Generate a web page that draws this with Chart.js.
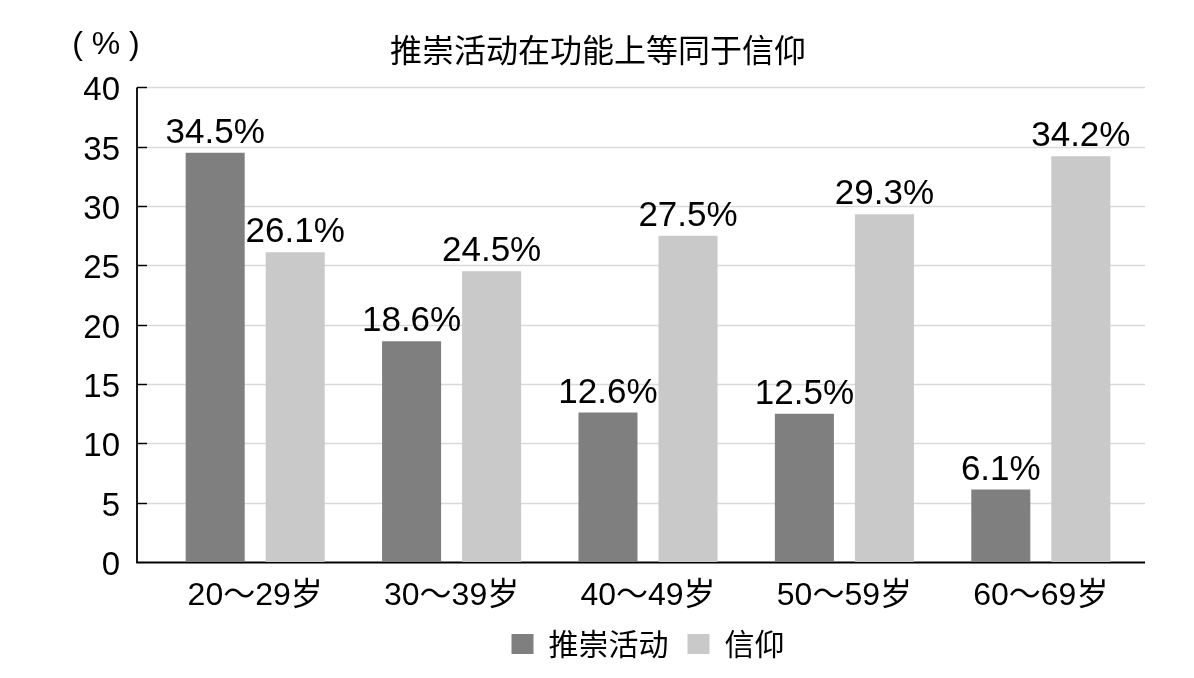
<!DOCTYPE html>
<html lang="zh-CN">
<head>
    <meta charset="UTF-8">
    <title>推崇活动在功能上等同于信仰</title>
    <style>
        body { margin: 0; background: #fff; }
        .wrap { width: 1194px; height: 678px; }
    </style>
</head>
<body>
    <div class="wrap">
        <canvas id="barChart" width="1194" height="678"></canvas>
    </div>
    <script src="https://cdn.jsdelivr.net/npm/chart.js"></script>
    <script>
        // data
        const ageGroups = ['20～29岁', '30～39岁', '40～49岁', '50～59岁', '60～69岁'];
        const activityValues = [34.5, 18.6, 12.6, 12.5, 6.1];
        const beliefValues = [26.1, 24.5, 27.5, 29.3, 34.2];
        const seriesNames = ['推崇活动', '信仰'];
        const yTicks = [0, 5, 10, 15, 20, 25, 30, 35, 40];

        const latin = '"Liberation Sans", Arial, "Noto Sans CJK SC", sans-serif';
        const cjk = '"Noto Sans CJK SC", "Liberation Sans", sans-serif';

        // axis lines, inner tick marks and gridlines (drawn a bit wider than the bar area)
        const axisPlugin = {
            id: 'axisDecor',
            beforeDatasetsDraw(chart) {
                const { ctx, chartArea, scales } = chart;
                const y = scales.y;
                const left = chartArea.left - 20;
                const right = chartArea.right + 6;
                ctx.save();
                yTicks.forEach(v => {
                    if (v === 0) return;
                    const py = Math.round(y.getPixelForValue(v)) + 0.5;
                    ctx.strokeStyle = '#d9d9d9';
                    ctx.lineWidth = 1.5;
                    ctx.beginPath();
                    ctx.moveTo(left + 10, py);
                    ctx.lineTo(right, py);
                    ctx.stroke();
                    ctx.strokeStyle = '#000';
                    ctx.beginPath();
                    ctx.moveTo(left, py);
                    ctx.lineTo(left + 10, py);
                    ctx.stroke();
                });
                const top = y.getPixelForValue(40);
                const base = Math.round(y.getPixelForValue(0)) + 0.5;
                ctx.strokeStyle = '#000';
                ctx.lineWidth = 1.8;
                ctx.beginPath();
                ctx.moveTo(left, top);
                ctx.lineTo(left, base);
                ctx.lineTo(right, base);
                ctx.stroke();

                // unit label
                ctx.fillStyle = '#000';
                ctx.font = '32px ' + latin;
                ctx.textAlign = 'center';
                ctx.textBaseline = 'middle';
                ctx.fillText('( % )', chartArea.left - 51, 45);
                ctx.restore();
            },
            afterDatasetsDraw(chart) {
                const { ctx } = chart;
                ctx.save();
                ctx.fillStyle = '#000';
                ctx.font = '35px ' + latin;
                ctx.textAlign = 'center';
                ctx.textBaseline = 'alphabetic';
                chart.data.datasets.forEach((ds, i) => {
                    chart.getDatasetMeta(i).data.forEach((bar, j) => {
                        ctx.fillText(ds.data[j].toFixed(1) + '%', bar.x, bar.y - 10);
                    });
                });
                ctx.restore();
            }
        };

        const ctx = document.getElementById('barChart').getContext('2d');
        const barChart = new Chart(ctx, {
            type: 'bar',
            data: {
                labels: ageGroups,
                datasets: [{
                    label: seriesNames[0],
                    data: activityValues,
                    backgroundColor: '#7f7f7f',
                    borderWidth: 0
                }, {
                    label: seriesNames[1],
                    data: beliefValues,
                    backgroundColor: '#c9c9c9',
                    borderWidth: 0
                }]
            },
            options: {
                responsive: false,
                animation: false,
                categoryPercentage: 0.815,
                barPercentage: 0.7375,
                layout: { padding: { left: 57, right: 55, top: 0, bottom: 9 } },
                plugins: {
                    title: {
                        display: true,
                        text: '推崇活动在功能上等同于信仰',
                        color: '#000',
                        font: { family: cjk, size: 32, weight: 'normal' },
                        padding: { top: 31, bottom: 18 }
                    },
                    legend: {
                        position: 'bottom',
                        fullSize: false,
                        labels: {
                            color: '#000',
                            font: { family: cjk, size: 30 },
                            boxWidth: 22,
                            boxHeight: 20,
                            padding: 19
                        }
                    },
                    tooltip: { enabled: false }
                },
                scales: {
                    x: {
                        grid: { display: false, drawTicks: false },
                        border: { display: false },
                        ticks: {
                            color: '#000',
                            font: { family: latin, size: 32 },
                            padding: 15,
                            maxRotation: 0
                        },
                        afterFit: s => { s.height = 48; }
                    },
                    y: {
                        min: 0,
                        max: 40,
                        grid: { display: false, drawTicks: false },
                        border: { display: false },
                        ticks: {
                            stepSize: 5,
                            color: '#000',
                            font: { family: latin, size: 33 },
                            padding: 37,
                            labelOffset: 4
                        },
                        afterFit: s => { s.width = 100; }
                    }
                }
            },
            plugins: [axisPlugin]
        });
    </script>
</body>
</html>
